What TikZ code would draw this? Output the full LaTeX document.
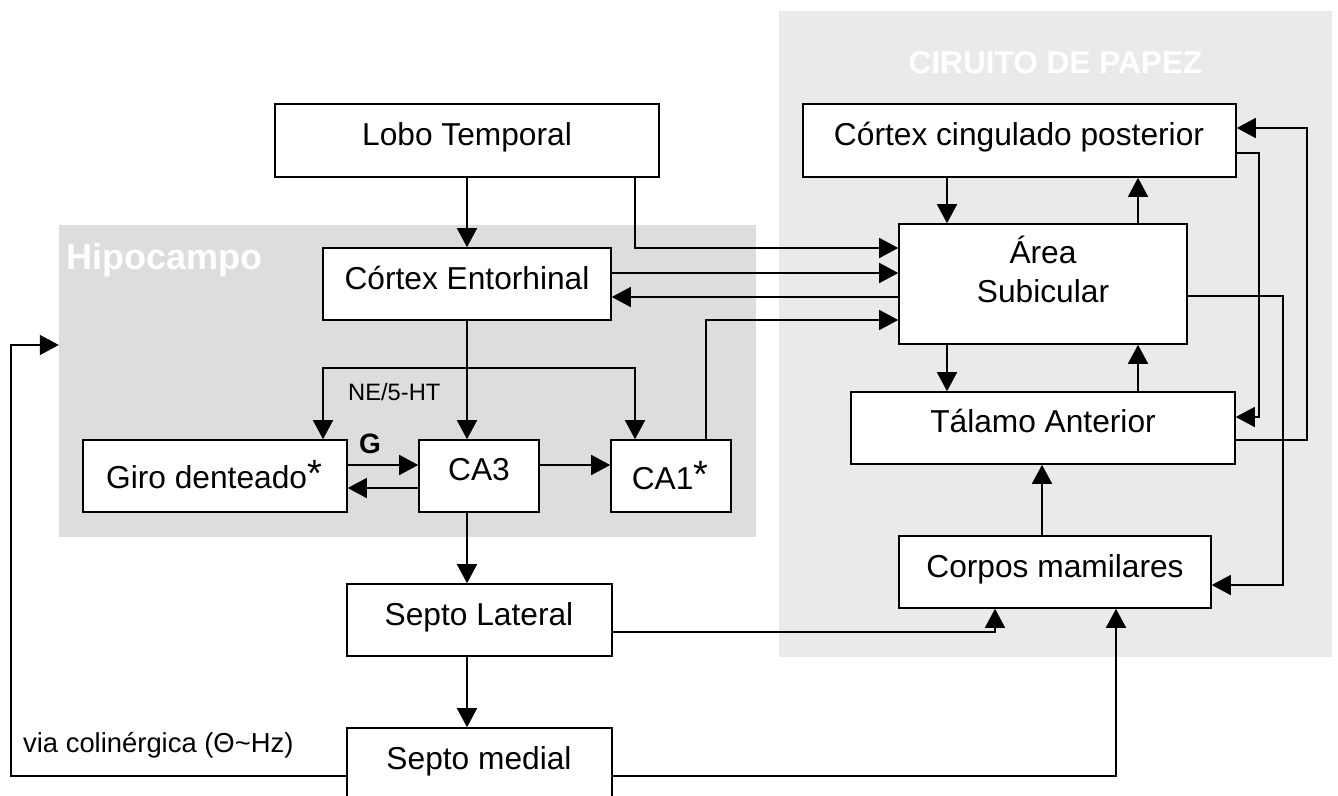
\documentclass[tikz,border=0pt]{standalone}
\usepackage{fontspec}
\setmainfont{Liberation Sans}
\usetikzlibrary{arrows.meta,calc}
\definecolor{papezbg}{HTML}{EAEAEA}
\definecolor{hipobg}{HTML}{DDDDDD}
\begin{document}
\begin{tikzpicture}[x=1pt,y=-1pt,
  bg/.style={draw=none,inner sep=0pt,rectangle},
  box/.style={draw=black,line width=1.6pt,fill=white,inner sep=0pt,rectangle},
  arr/.style={line width=1.6pt,-{Triangle[length=19pt,width=20pt]}},
  darr/.style={line width=1.6pt,{Triangle[length=19pt,width=20pt]}-{Triangle[length=19pt,width=20pt]}},
  txt/.style={inner sep=0pt,anchor=base,font=\fontsize{31.7}{38}\selectfont},
  small/.style={inner sep=0pt,anchor=base west},
  title/.style={inner sep=0pt,text=white,font=\bfseries},
  star/.code={},
]
\useasboundingbox (0,0) rectangle (1338,795);
\clip (0,0) rectangle (1338,795);
\newcommand{\bstar}{\raisebox{1.5pt}{\fontsize{38}{40}\selectfont *}}

% backgrounds
\node[bg,fill=papezbg,minimum width=553pt,minimum height=646pt] (papez) at (1055.5,334) {};
\node[bg,fill=hipobg,minimum width=697pt,minimum height=312pt] (hipo) at (407.5,381) {};
\node[title,anchor=base,font=\bfseries\fontsize{31.6}{36}\selectfont] (papez-t) at (1055.5,73) {CIRUITO DE PAPEZ};
\node[title,anchor=base west,font=\bfseries\fontsize{36}{40}\selectfont] (hipo-t) at (66,269) {Hipocampo};

% boxes
\node[box,minimum width=384pt,minimum height=73pt] (lobo) at (467,140.5) {};
\node[box,minimum width=433pt,minimum height=73pt] (cing) at (1019.5,140.5) {};
\node[box,minimum width=288pt,minimum height=72pt] (ento) at (467,284) {};
\node[box,minimum width=288pt,minimum height=120pt] (area) at (1043,284) {};
\node[box,minimum width=384pt,minimum height=72pt] (tal) at (1043,428) {};
\node[box,minimum width=312pt,minimum height=72pt] (corp) at (1055,572) {};
\node[box,minimum width=264pt,minimum height=72pt] (giro) at (215,476) {};
\node[box,minimum width=120pt,minimum height=72pt] (ca3) at (479,476) {};
\node[box,minimum width=120pt,minimum height=72pt] (ca1) at (671,476) {};
\node[box,minimum width=265pt,minimum height=72pt] (sepl) at (479.5,620) {};
\node[box,minimum width=265pt,minimum height=90pt] (sepm) at (479.5,773) {};

% box texts
\node[txt] (lobo-t) at (467,145) {Lobo Temporal};
\node[txt] (cing-t) at (1019,145) {Córtex cingulado posterior};
\node[txt] (ento-t) at (467,289) {Córtex Entorhinal};
\node[txt] (area-t1) at (1043,263) {Área};
\node[txt] (area-t2) at (1043,302) {Subicular};
\node[txt] (tal-t) at (1043,432) {Tálamo Anterior};
\node[txt] (corp-t) at (1055,577) {Corpos mamilares};
\node[txt] (giro-t) at (214,488) {Giro denteado\bstar};
\node[txt] (ca3-t) at (479,480) {CA3};
\node[txt] (ca1-t) at (670,489) {CA1\bstar};
\node[txt] (sepl-t) at (479,625) {Septo Lateral};
\node[txt] (sepm-t) at (479,769) {Septo medial};

% labels
\node[small,font=\fontsize{23.7}{28}\selectfont] (ne-t) at (348,400) {NE/5-HT};
\node[small,font=\fontsize{27.4}{32}\selectfont] (via-t) at (23,752) {via colinérgica (Θ\textasciitilde Hz)};
\node[inner sep=0pt,anchor=base,font=\bfseries\fontsize{28}{32}\selectfont] (g-t) at (370,453) {G};

% helper coordinates
\coordinate (neL) at (323,368);
\coordinate (neR) at (635,368);
\coordinate (c1) at (1259,417);
\coordinate (c2) at (1307,128);
\coordinate (c3) at (1283,585);
\coordinate (c4) at (11,345);

% connectors - left part
\draw[arr] (lobo.south) -- (ento.north);
\draw[arr] (lobo.south -| 635,0) |- (area.west |- 0,248);
\draw[arr] (ento.east |- 0,273) -- (area.west |- 0,273);
\draw[arr] (area.west |- 0,297) -- (ento.east |- 0,297);
\draw[arr] (ca1.north -| 706,0) |- (area.west |- 0,320);
\draw[arr] (ento.south) -- (ento.south |- ca3.north);
\draw[darr] (giro.north -| neL) -- (neL) -- (neR) -- (ca1.north -| neR);
\draw[arr] (giro.east |- 0,465) -- (ca3.west |- 0,465);
\draw[arr] (ca3.west |- 0,488) -- (giro.east |- 0,488);
\draw[arr] (ca3.east |- 0,465) -- (ca1.west |- 0,465);
\draw[arr] (ca3.south -| 467,0) -- (sepl.north -| 467,0);
\draw[arr] (sepl.south -| 467,0) -- (sepm.north -| 467,0);
\draw[arr] (sepl.east |- 0,632) -| (corp.south -| 995,0);
\draw[arr] (sepm.east |- 0,776) -| (corp.south -| 1116,0);
\draw[arr] (sepm.west |- 0,776) -| (c4) -- (hipo.west |- c4);

% connectors - Papez circuit
\draw[arr] (cing.south -| 947,0) -- (area.north -| 947,0);
\draw[arr] (area.north -| 1138,0) -- (cing.south -| 1138,0);
\draw[arr] (area.south -| 947,0) -- (tal.north -| 947,0);
\draw[arr] (tal.north -| 1138,0) -- (area.south -| 1138,0);
\draw[arr] (corp.north -| 1042,0) -- (tal.south -| 1042,0);
\draw[arr] (cing.east |- 0,153) -| (c1) -- (tal.east |- c1);
\draw[arr] (tal.east |- 0,440) -| (c2) -- (cing.east |- c2);
\draw[arr] (area.east |- 0,296) -| (c3) -- (corp.east |- c3);
\end{tikzpicture}
\end{document}
